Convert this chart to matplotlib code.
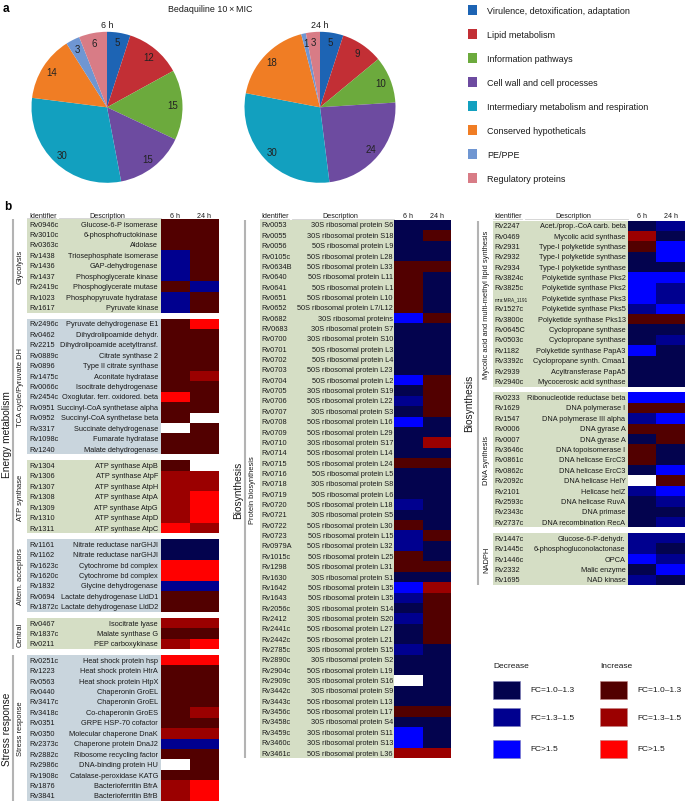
import numpy as np
import matplotlib
matplotlib.use("Agg")
import matplotlib.pyplot as plt

plt.rcParams['font.family'] = ['Liberation Sans', 'DejaVu Sans']

W, H = 685, 804

# ---------------- panel a: functional categories (number of proteins)
categories = ["Virulence, detoxification, adaptation", "Lipid metabolism",
              "Information pathways", "Cell wall and cell processes",
              "Intermediary metabolism and respiration", "Conserved hypotheticals",
              "PE/PPE", "Regulatory proteins"]
cat_colors = ['#1d64b4', '#c22f35', '#6caa3d', '#6d4ba0',
              '#12a0bf', '#f07d24', '#6f96d2', '#d87c86']
counts_6h = [5, 12, 15, 15, 30, 14, 3, 6]
counts_24h = [5, 9, 10, 24, 30, 18, 1, 3]

# ---------------- panel b: fold changes
# code: -1/-2/-3 decrease (FC 1.0-1.3 / 1.3-1.5 / >1.5), 1/2/3 increase, 0 = not detected
glycolysis = [
    ("Rv0946c", "Glucose-6-P isomerase", 1, 1),
    ("Rv3010c", "6-phosphofructokinase", 1, 1),
    ("Rv0363c", "Aldolase", 1, 1),
    ("Rv1438", "Triosephosphate isomerase", -2, 1),
    ("Rv1436", "GAP-dehydrogenase", -2, 1),
    ("Rv1437", "Phosphoglycerate kinase", -2, 1),
    ("Rv2419c", "Phosphoglycerate mutase", 1, -2),
    ("Rv1023", "Phosphopyruvate hydratase", -2, 1),
    ("Rv1617", "Pyruvate kinase", -2, 1),
]
tca = [
    ("Rv2496c", "Pyruvate dehydrogenase E1", 1, 3),
    ("Rv0462", "Dihydrolipoamide dehydr.", 1, 1),
    ("Rv2215", "Dihydrolipoamide acetyltransf.", 1, 1),
    ("Rv0889c", "Citrate synthase 2", 1, 1),
    ("Rv0896", "Type II citrate synthase", 1, 1),
    ("Rv1475c", "Aconitate hydratase", 1, 2),
    ("Rv0066c", "Isocitrate dehydrogenase", 1, 1),
    ("Rv2454c", "Oxoglutar. ferr. oxidored. beta", 3, 1),
    ("Rv0951", "Succinyl-CoA synthetase alpha", 1, 1),
    ("Rv0952", "Succinyl-CoA synthetase beta", 1, 0),
    ("Rv3317", "Succinate dehydrogenase", 0, 1),
    ("Rv1098c", "Fumarate hydratase", 1, 1),
    ("Rv1240", "Malate dehydrogenase", 1, 1),
]
atp_synthase = [
    ("Rv1304", "ATP synthase AtpB", 1, 0),
    ("Rv1306", "ATP synthase AtpF", 2, 2),
    ("Rv1307", "ATP synthase AtpH", 2, 2),
    ("Rv1308", "ATP synthase AtpA", 2, 3),
    ("Rv1309", "ATP synthase AtpG", 2, 3),
    ("Rv1310", "ATP synthase AtpD", 2, 3),
    ("Rv1311", "ATP synthase AtpC", 3, 2),
]
alt_acceptors = [
    ("Rv1161", "Nitrate reductase narGHJI", -1, -1),
    ("Rv1162", "Nitrate reductase narGHJI", -1, -1),
    ("Rv1623c", "Cytochrome bd complex", 3, 3),
    ("Rv1620c", "Cytochrome bd complex", 3, 3),
    ("Rv1832", "Glycine dehydrogenase", -2, -2),
    ("Rv0694", "Lactate dehydrogenase LldD1", 1, 1),
    ("Rv1872c", "Lactate dehydrogenase LldD2", 1, 1),
]
central = [
    ("Rv0467", "Isocitrate lyase", 2, 2),
    ("Rv1837c", "Malate synthase G", 1, 1),
    ("Rv0211", "PEP carboxykinase", 2, 3),
]
stress = [
    ("Rv0251c", "Heat shock protein hsp", 3, 3),
    ("Rv1223", "Heat shock protein HtrA", 1, 1),
    ("Rv0563", "Heat shock protein HtpX", 1, 1),
    ("Rv0440", "Chaperonin GroEL", 1, 1),
    ("Rv3417c", "Chaperonin GroEL", 1, 1),
    ("Rv3418c", "Co-chaperonin GroES", 1, 2),
    ("Rv0351", "GRPE HSP-70 cofactor", 1, 1),
    ("Rv0350", "Molecular chaperone DnaK", 2, 2),
    ("Rv2373c", "Chaperone protein DnaJ2", -2, -2),
    ("Rv2882c", "Ribosome recycling factor", 1, 1),
    ("Rv2986c", "DNA-binding protein HU", 0, 1),
    ("Rv1908c", "Catalase-peroxidase KATG", 1, 1),
    ("Rv1876", "Bacterioferritin BfrA", 2, 3),
    ("Rv3841", "Bacterioferritin BfrB", 2, 3),
]
protein_biosynthesis = [
    ("Rv0053", "30S ribosomal protein S6", -1, -1),
    ("Rv0055", "30S ribosomal protein S18", -1, 1),
    ("Rv0056", "50S ribosomal protein L9", -1, -1),
    ("Rv0105c", "50S ribosomal protein L28", -1, -1),
    ("Rv0634B", "50S ribosomal protein L33", 1, 1),
    ("Rv0640", "50S ribosomal protein L11", 1, -1),
    ("Rv0641", "50S ribosomal protein L1", 1, -1),
    ("Rv0651", "50S ribosomal protein L10", 1, -1),
    ("Rv0652", "50S ribosomal protein L7/L12", 1, -1),
    ("Rv0682", "30S ribosomal proteins", -3, 1),
    ("RV0683", "30S ribosomal protein S7", -1, -1),
    ("Rv0700", "30S ribosomal protein S10", -1, -1),
    ("Rv0701", "50S ribosomal protein L3", -1, -1),
    ("Rv0702", "50S ribosomal protein L4", -1, -1),
    ("Rv0703", "50S ribosomal protein L23", -1, -1),
    ("Rv0704", "50S ribosomal protein L2", -3, 1),
    ("Rv0705", "30S ribosomal protein S19", -1, 1),
    ("Rv0706", "50S ribosomal protein L22", -2, 1),
    ("Rv0707", "30S ribosomal protein S3", -1, 1),
    ("Rv0708", "50S ribosomal protein L16", -3, -1),
    ("Rv0709", "50S ribosomal protein L29", -1, -1),
    ("Rv0710", "30S ribosomal protein S17", -1, 2),
    ("Rv0714", "50S ribosomal protein L14", -1, -1),
    ("Rv0715", "50S ribosomal protein L24", 1, 1),
    ("Rv0716", "50S ribosomal protein L5", -1, -1),
    ("Rv0718", "30S ribosomal protein S8", -1, -1),
    ("Rv0719", "50S ribosomal protein L6", -1, -1),
    ("Rv0720", "50S ribosomal protein L18", -2, -1),
    ("Rv0721", "30S ribosomal protein S5", -1, -1),
    ("Rv0722", "50S ribosomal protein L30", 1, -1),
    ("Rv0723", "50S ribosomal protein L15", -2, 1),
    ("Rv0979A", "50S ribosomal protein L32", -2, -1),
    ("Rv1015c", "50S ribosomal protein L25", 1, -1),
    ("Rv1298", "50S ribosomal protein L31", 1, 1),
    ("Rv1630", "30S ribosomal protein S1", -1, -1),
    ("Rv1642", "50S ribosomal protein L35", -3, 2),
    ("Rv1643", "50S ribosomal protein L35", -2, 1),
    ("Rv2056c", "30S ribosomal protein S14", -1, 1),
    ("Rv2412", "30S ribosomal protein S20", -2, 1),
    ("Rv2441c", "50S ribosomal protein L27", -1, 1),
    ("Rv2442c", "50S ribosomal protein L21", -1, 1),
    ("Rv2785c", "30S ribosomal protein S15", -2, -1),
    ("Rv2890c", "30S ribosomal protein S2", -1, -1),
    ("Rv2904c", "50S ribosomal protein L19", -1, -1),
    ("Rv2909c", "30S ribosomal protein S16", 0, -1),
    ("Rv3442c", "30S ribosomal protein S9", -1, -1),
    ("Rv3443c", "50S ribosomal protein L13", -1, -1),
    ("Rv3456c", "50S ribosomal protein L17", 1, 1),
    ("Rv3458c", "30S ribosomal protein S4", -1, -1),
    ("Rv3459c", "30S ribosomal protein S11", -3, -1),
    ("Rv3460c", "30S ribosomal protein S13", -3, -1),
    ("Rv3461c", "50S ribosomal protein L36", 2, 2),
]
mycolic = [
    ("Rv2247", "Acet./prop.-CoA carb. beta", -1, -2),
    ("Rv0469", "Mycolic acid synthase", 2, -1),
    ("Rv2931", "Type-I polyketide synthase", 1, -3),
    ("Rv2932", "Type-I polyketide synthase", -1, -3),
    ("Rv2934", "Type-I polyketide synthase", -1, -1),
    ("Rv3824c", "Polyketide synthase Pks2", -3, -3),
    ("Rv3825c", "Polyketide synthase Pks2", -3, -2),
    ("mra:MRA_1191", "Polyketide synthase Pks3", -3, -2),
    ("Rv1527c", "Polyketide synthase Pks5", -2, -3),
    ("Rv3800c", "Polyketide synthase Pks13", 1, 1),
    ("Rv0645C", "Cyclopropane synthase", -1, -1),
    ("Rv0503c", "Cyclopropane synthase", -1, -2),
    ("Rv1182", "Polyketide synthase PapA3", -3, -1),
    ("Rv3392c", "Cyclopropane synth. Cmaa1", -1, -1),
    ("Rv2939", "Acyltransferase PapA5", -1, -1),
    ("Rv2940c", "Mycocerosic acid synthase", -1, -1),
]
dna_synthesis = [
    ("Rv0233", "Ribonucleotide reductase beta", -3, -3),
    ("Rv1629", "DNA polymerase I", 1, 1),
    ("Rv1547", "DNA polymerase III alpha", -2, -3),
    ("Rv0006", "DNA gyrase A", 1, 1),
    ("Rv0007", "DNA gyrase A", -1, 1),
    ("Rv3646c", "DNA topoisomerase I", 1, -1),
    ("Rv0861c", "DNA helicase ErcC3", 1, -1),
    ("Rv0862c", "DNA helicase ErcC3", -1, -3),
    ("Rv2092c", "DNA helicase HelY", 0, 1),
    ("Rv2101", "Helicase helZ", -2, -3),
    ("Rv2593c", "DNA helicase RuvA", -1, -2),
    ("Rv2343c", "DNA primase", -1, -1),
    ("Rv2737c", "DNA recombination RecA", -1, -2),
]
nadph = [
    ("Rv1447c", "Glucose-6-P-dehydr.", -2, -2),
    ("Rv1445c", "6-phosphogluconolactonase", -2, -1),
    ("Rv1446c", "OPCA", -3, -2),
    ("Rv2332", "Malic enzyme", -1, -3),
    ("Rv1695", "NAD kinase", -2, -1),
]

fc_labels = ["FC=1.0\u20131.3", "FC=1.3\u20131.5", "FC>1.5"]

FC_COLORS = {-1: '#03034e', -2: '#00008f', -3: '#0000ff',
             1: '#520000', 2: '#9b0000', 3: '#ff0000', 0: 'white'}
GREEN = '#d5dec5'
GREY = '#c9d5dd'
LINE = '#b3b3b3'
GAP = 0.55
TXT = '#1a1a1a'
ROW_FS = 5.3

fig = plt.figure(figsize=(W / 100, H / 100), dpi=100)
canvas = fig.add_axes([0, 0, 1, 1])
canvas.set_xlim(0, W)
canvas.set_ylim(H, 0)
canvas.axis('off')


def add_ax(x0, y0, x1, y1):
    return fig.add_axes([x0 / W, 1 - y1 / H, (x1 - x0) / W, (y1 - y0) / H])


# ---------------- panel a
canvas.text(3, 8.5, "a", fontsize=8.5, fontweight='bold', va='center', ha='left')
canvas.text(210, 10, "Bedaquiline 10\u2009\u00d7\u2009MIC", fontsize=6.4, ha='center', va='center',
            color=TXT, family=['Liberation Sans', 'DejaVu Sans'])

R = 75.5
for cx, title, counts in [(107, "6 h", counts_6h), (320, "24 h", counts_24h)]:
    cy = 108.3
    ax = add_ax(cx - R, cy - R, cx + R, cy + R)
    total = sum(counts)
    ax.pie(counts, colors=cat_colors, startangle=90, counterclock=False,
           radius=1, pctdistance=0.87,
           autopct=lambda p, t=total: f"{round(p * t / 100):d}",
           wedgeprops=dict(linewidth=0),
           textprops=dict(fontsize=7, color='#222222'))
    ax.set_xlim(-1, 1)
    ax.set_ylim(-1, 1)
    ax.set_aspect('auto')
    canvas.text(cx, 25, title, fontsize=6.4, ha='center', va='center', color=TXT)

for i, (cat, col) in enumerate(zip(categories, cat_colors)):
    yc = 11 + 24 * i
    canvas.add_patch(plt.Rectangle((468, yc - 4.7), 9.5, 9.4, color=col, lw=0))
    canvas.text(487, yc, cat, fontsize=6.5, va='center', ha='left', color=TXT)


# ---------------- panel b
canvas.text(4, 207, "b", fontsize=8.5, fontweight='bold', va='center', ha='left')


def draw_column(sections, groups, pos):
    starts = []
    y = 0.0
    for k, sec in enumerate(sections):
        if k:
            y += GAP
        starts.append(y)
        y += len(sec[1])
    total = y
    ax = add_ax(pos['x0'], pos['top'], pos['x1'], pos['bottom'])
    ax.set_xlim(pos['x0'], pos['x1'])
    ax.set_ylim(total, 0)
    ax.axis('off')
    ppu = (pos['bottom'] - pos['top']) / total

    heat_left = [pos['heat'], pos['heat'] + pos['w6']]
    heat_w = [pos['w6'], pos['w24']]
    for (label, rows, bg), y0 in zip(sections, starts):
        yc = y0 + np.arange(len(rows)) + 0.5
        ax.barh(yc, pos['heat'] - pos['bg'], left=pos['bg'], height=1.0,
                color=bg, linewidth=0, antialiased=False)
        for j in range(2):
            vals = [r[2 + j] for r in rows]
            ax.barh(yc, heat_w[j], left=heat_left[j], height=1.0,
                    color=[FC_COLORS[v] for v in vals], linewidth=0, antialiased=False)
        for yy, r in zip(yc, rows):
            fs = 3.4 if len(r[0]) > 8 else ROW_FS
            ax.text(pos['id'], yy, r[0], fontsize=fs, ha='left', va='center', color=TXT)
            ax.text(pos['desc'], yy, r[1], fontsize=ROW_FS, ha='right', va='center', color=TXT)
        ax.text(pos['small'], y0 + len(rows) / 2, label, rotation=90, fontsize=5.4,
                ha='center', va='center', color=TXT, clip_on=False)

    for big, first, last in groups:
        ya = starts[first]
        yb = starts[last] + len(sections[last][1])
        ax.plot([pos['line'], pos['line']], [ya, yb], color=LINE, lw=1.5,
                solid_capstyle='butt', clip_on=False)
        ax.text(pos['big'], (ya + yb) / 2, big, rotation=90, fontsize=7.3,
                ha='center', va='center', color=TXT, clip_on=False)

    # header row
    hy = (216.7 - pos['top']) / ppu
    ax.text(pos['id'], hy, "Identifier", fontsize=5.1, ha='left', va='center', color=TXT, clip_on=False)
    ax.text(pos['bg'] + 0.6 * (pos['heat'] - pos['bg']), hy, "Description", fontsize=5.1,
            ha='center', va='center', color=TXT, clip_on=False)
    ax.text(heat_left[0] + heat_w[0] / 2, hy, "6 h", fontsize=5.1, ha='center', va='center',
            color=TXT, clip_on=False)
    ax.text(heat_left[1] + heat_w[1] / 2, hy, "24 h", fontsize=5.1, ha='center', va='center',
            color=TXT, clip_on=False)
    split = pos['bg'] + 0.23 * (pos['heat'] - pos['bg'])
    ax.plot([pos['bg'], split - 1.5], [-0.12, -0.12], color='#d0d0d0', lw=0.6, clip_on=False)
    ax.plot([split + 1.5, pos['heat']], [-0.12, -0.12], color='#d0d0d0', lw=0.6, clip_on=False)


left_sections = [("Glycolysis", glycolysis, GREEN),
                 ("TCA cycle/Pyruvate DH", tca, GREY),
                 ("ATP synthase", atp_synthase, GREEN),
                 ("Altern. acceptors", alt_acceptors, GREY),
                 ("Central", central, GREEN),
                 ("Stress response", stress, GREY)]
draw_column(left_sections, [("Energy metabolism", 0, 4), ("Stress response", 5, 5)],
            dict(x0=0, x1=219, top=219.8, bottom=802.2, big=7, line=13, small=20.5,
                 bg=27, id=29.5, desc=158, heat=161, w6=29, w24=28.5))

draw_column([("Protein biosynthesis", protein_biosynthesis, GREEN)], [("Biosynthesis", 0, 0)],
            dict(x0=229, x1=452, top=220.8, bottom=759.2, big=238.5, line=245, small=253,
                 bg=259.7, id=261.5, desc=393, heat=394, w6=29, w24=28.5))

draw_column([("Mycolic acid and multi-methyl lipid synthesis", mycolic, GREEN),
              ("DNA synthesis", dna_synthesis, GREEN),
              ("NADPH", nadph, GREEN)], [("Biosynthesis", 0, 2)],
            dict(x0=460, x1=685, top=221.5, bottom=586, big=469.5, line=477.7, small=487,
                 bg=492.7, id=494.5, desc=625.5, heat=627.5, w6=28.5, w24=29))

# ---------------- fold change legend
canvas.text(493, 667, "Decrease", fontsize=6, ha='left', va='center', color=TXT)
canvas.text(600, 667, "Increase", fontsize=6, ha='left', va='center', color=TXT)
for k, (lab, ys) in enumerate(zip(fc_labels, [690.5, 718.3, 749.7])):
    for xs, code, edge in [(493, -(k + 1), '#7a7ab8'), (600, k + 1, '#c08080')]:
        canvas.add_patch(plt.Rectangle((xs, ys - 9), 27.5, 18, facecolor=FC_COLORS[code],
                                       edgecolor=edge, lw=0.4))
        canvas.text(xs + 37, ys, lab, fontsize=6, ha='left', va='center', color=TXT)

fig.savefig("out.png", dpi=100)
